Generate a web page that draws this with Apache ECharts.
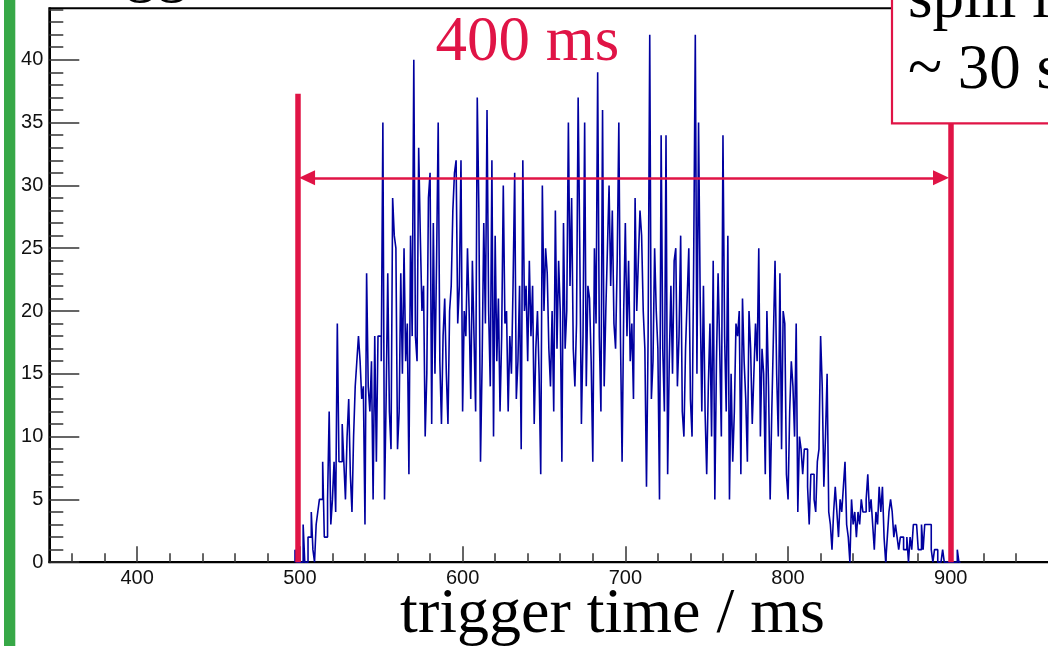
<!DOCTYPE html>
<html><head><meta charset="utf-8">
<script src="https://cdn.jsdelivr.net/npm/echarts@6/dist/echarts.min.js"></script>
<style>html,body{margin:0;padding:0;background:#fff;overflow:hidden}#c{width:1048px;height:646px}</style>
</head><body><div id="c"></div>
<script>
// ---- data (1 ms bins, trigger counts) ----
const binStart = 497;   // left edge of first bin, ms
const binWidth = 1;     // ms
const counts = [
  1,0,0,0,0,3,0,0,2,2,
  4,1,0,3,4,5,5,8,2,2,
  5,12,3,5,8,4,19,8,8,11,
  8,5,10,13,7,4,10,14,16,18,
  16,13,14,3,23,14,12,16,5,18,
  8,18,18,16,35,5,13,23,12,9,
  29,26,25,9,12,23,15,25,16,19,
  7,26,18,40,18,16,33,26,20,22,
  10,15,29,31,11,27,15,24,35,16,
  11,18,21,15,11,20,22,28,31,32,
  19,22,32,12,20,18,25,20,13,24,
  18,12,37,28,8,16,27,19,36,20,
  14,32,10,26,16,21,12,18,30,19,
  20,12,18,15,22,31,13,16,22,9,
  32,20,22,16,24,18,22,11,17,20,
  15,7,30,20,25,23,17,14,20,12,
  28,17,24,20,8,27,17,20,35,22,
  29,17,14,19,37,25,11,18,35,14,
  22,21,16,8,25,19,39,18,12,36,
  14,20,25,30,22,28,19,17,24,35,
  18,8,20,27,18,24,16,19,13,29,
  20,24,28,26,20,17,6,18,42,13,
  16,25,20,17,5,34,17,12,34,7,
  16,22,15,24,25,14,18,26,12,10,
  17,21,25,13,10,24,42,15,35,21,
  12,22,12,7,14,19,10,24,5,16,
  23,17,10,34,18,12,26,5,15,8,
  12,19,18,20,7,21,16,13,8,20,
  17,11,15,19,16,25,10,17,15,7,
  20,14,5,12,18,24,15,10,23,9,
  20,19,7,5,12,16,14,10,19,4,
  10,9,7,9,9,6,3,7,7,5,
  4,8,9,18,14,6,10,15,4,3,
  1,4,6,4,2,5,4,6,8,3,
  2,0,5,3,4,2,4,3,5,4,
  4,5,7,4,5,3,1,4,3,6,
  4,6,2,0,2,4,5,4,2,3,
  2,1,2,2,1,1,2,0,2,1,
  3,3,3,1,1,3,1,3,3,3,
  3,1,0,1,1,0,0,0,1,0,
  0,0,0,0,0,0,0,1,0
];
const xTickLabels = [400, 500, 600, 700, 800, 900, 1000];
const yTickLabels = [0, 5, 10, 15, 20, 25, 30, 35, 40];
const xRange = [346, 1000];
const yRange = [0, 44.1];
const windowStart = 498.5;   // left red marker, ms
const windowEnd = 900;       // right red marker, ms
const arrowLevel = 30.6;     // counts
const leftMarkerTop = 37.3;
const rightMarkerTop = 36;
const arrowFrom = 504.4, arrowTo = 894.0;

// ---- build ----
const RED = '#e01446';
const BLUE = '#0000a0';
const pts = [[binStart, 0]];
counts.forEach((c, i) => pts.push([binStart + i * binWidth, c]));
pts.push([binStart + counts.length * binWidth, 0]);

const xMinor = [];
for (let v = 360; v <= xRange[1]; v += 20) if (v % 100 !== 0) xMinor.push(v);
const yMinor = [];
for (let v = 1; v <= 44; v++) if (v % 5 !== 0) yMinor.push(v);

const labelStyle = { fontSize: 20, fontFamily: 'Liberation Sans, Arial, sans-serif', color: '#111' };
const chart = echarts.init(document.getElementById('c'), null, { renderer: 'canvas' });
chart.setOption({
  animation: false,
  backgroundColor: '#fff',
  grid: { left: 49.3, right: -65.5, top: 8.3, bottom: 83.8, outerBoundsMode: 'none', containLabel: false,
          show: true, borderColor: '#000', borderWidth: 2, backgroundColor: 'transparent' },
  xAxis: [
    { type: 'value', min: xRange[0], max: xRange[1], position: 'bottom',
      axisLine: { show: true, onZero: false, lineStyle: { color: '#000', width: 2 } },
      axisTick: { show: true, inside: true, length: 16, customValues: xTickLabels, lineStyle: { color: '#333', width: 1.5 } },
      axisLabel: Object.assign({ customValues: xTickLabels, margin: 6, formatter: v => String(v) }, labelStyle),
      splitLine: { show: false } },
    { type: 'value', min: xRange[0], max: xRange[1], position: 'bottom',
      axisLine: { show: false, onZero: false },
      axisTick: { show: true, inside: true, length: 9, customValues: xMinor, lineStyle: { color: '#333', width: 1.5 } },
      axisLabel: { show: false }, splitLine: { show: false } }
  ],
  yAxis: [
    { type: 'value', min: yRange[0], max: yRange[1], position: 'left',
      axisLine: { show: true, onZero: false, lineStyle: { color: '#000', width: 2 } },
      axisTick: { show: true, inside: true, length: 30, customValues: yTickLabels, lineStyle: { color: '#333', width: 1.5 } },
      axisLabel: Object.assign({ customValues: yTickLabels, margin: 6 }, labelStyle),
      splitLine: { show: false } },
    { type: 'value', min: yRange[0], max: yRange[1], position: 'left',
      axisLine: { show: false, onZero: false },
      axisTick: { show: true, inside: true, length: 14, customValues: yMinor, lineStyle: { color: '#333', width: 1.5 } },
      axisLabel: { show: false }, splitLine: { show: false } }
  ],
  series: [{
    type: 'line', step: 'end', data: pts, xAxisIndex: 0, yAxisIndex: 0,
    showSymbol: false, symbol: 'none',
    lineStyle: { color: BLUE, width: 1.6 },
    z: 3,
    markLine: {
      silent: true, animation: false, symbol: ['none', 'none'], label: { show: false }, z: 5,
      data: [
        [{ coord: [windowStart, 0], lineStyle: { color: RED, width: 5.5, type: 'solid' } }, { coord: [windowStart, leftMarkerTop] }],
        [{ coord: [windowEnd, 0], lineStyle: { color: RED, width: 5.5, type: 'solid' } }, { coord: [windowEnd, rightMarkerTop] }],
        [{ coord: [arrowFrom, arrowLevel], symbol: 'triangle', symbolSize: [15, 16], lineStyle: { color: RED, width: 2.5, type: 'solid' }, itemStyle: { color: RED } },
         { coord: [arrowTo, arrowLevel], symbol: 'triangle', symbolSize: [15, 16], itemStyle: { color: RED } }]
      ]
    }
  }],
  graphic: [
    { type: 'rect', z: 100, shape: { x: 4, y: 0, width: 11.3, height: 646 }, style: { fill: '#37a847' } },
    { type: 'rect', z: 100, shape: { x: 892, y: -10, width: 200, height: 133.3 }, style: { fill: '#fff', stroke: RED, lineWidth: 2.2 } },
    { type: 'text', z: 101, x: 908, y: 0, style: { text: 'spill length', fontSize: 63, fontFamily: 'Liberation Serif, Times New Roman, serif', fill: '#000', align: 'left', verticalAlign: 'middle' } },
    { type: 'text', z: 101, x: 908, y: 71, style: { text: '~ 30 s', fontSize: 63, fontFamily: 'Liberation Serif, Times New Roman, serif', fill: '#000', align: 'left', verticalAlign: 'middle' } },
    { type: 'text', z: 101, x: 527.5, y: 43, style: { text: '400 ms', fontSize: 63, fontFamily: 'Liberation Serif, Times New Roman, serif', fill: RED, align: 'center', verticalAlign: 'middle' } },
    { type: 'text', z: 101, x: 612.5, y: 615, style: { text: 'trigger time / ms', fontSize: 64, fontFamily: 'Liberation Serif, Times New Roman, serif', fill: '#000', align: 'center', verticalAlign: 'middle' } },
    { type: 'text', z: 101, x: 69, y: -28, style: { text: 'triggers', fontSize: 63, fontFamily: 'Liberation Serif, Times New Roman, serif', fill: '#000', align: 'left', verticalAlign: 'middle' } }
  ]
});
</script></body></html>
